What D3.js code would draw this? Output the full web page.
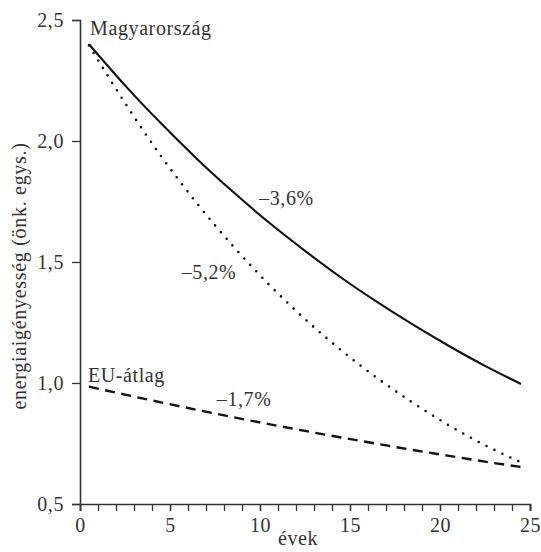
<!DOCTYPE html>
<html>
<head>
<meta charset="utf-8">
<script src="https://cdn.jsdelivr.net/npm/d3@7"></script>
<style>
    body { margin: 0; background: #fff; }
    svg { display: block; }
</style>
</head>
<body>
<svg id="chart" width="541" height="552"></svg>
<script>
// years on the x axis
const years = [0.5, 2.5, 4.5, 6.5, 8.5, 10.5, 12.5, 14.5, 16.5, 18.5, 20.5, 22.5, 24.5];

// energy intensity, relative units
const hungary = [2.400, 2.230, 2.073, 1.926, 1.790, 1.663, 1.546, 1.436, 1.335, 1.241, 1.153, 1.071, 0.996];
const hungaryFast = [2.395, 2.157, 1.938, 1.742, 1.566, 1.407, 1.264, 1.136, 1.021, 0.918, 0.825, 0.743, 0.672];
const euAverage = [0.985, 0.952, 0.920, 0.889, 0.859, 0.830, 0.802, 0.775, 0.749, 0.723, 0.699, 0.675, 0.653];

const yTicks = [0.5, 1.0, 1.5, 2.0, 2.5];
const xTicks = [0, 5, 10, 15, 20, 25];
const xMinorTicks = d3.range(0, 26);

// text notes, anchored in data units [year, value]
const notes = [
    { text: 'Magyarország', at: [0.56, 2.438] },
    { text: '–3,6%', at: [9.95, 1.736] },
    { text: '–5,2%', at: [5.65, 1.43] },
    { text: 'EU-átlag', at: [0.44, 1.004] },
    { text: '–1,7%', at: [7.6, 0.905] }
];

const FONT = "'Liberation Serif', 'Times New Roman', 'DejaVu Serif', serif";

const svg = d3.select('#chart')
    .attr('font-family', FONT);

const x = d3.scaleLinear().domain([0, 25]).range([80, 530]);
const y = d3.scaleLinear().domain([0.5, 2.5]).range([504, 20]);

const fmt = (d) => d3.format('.1f')(d).replace('.', ',');

// y axis
const yAxis = svg.append('g')
    .attr('transform', 'translate(80,0)')
    .call(d3.axisLeft(y).tickValues(yTicks).tickFormat(fmt).tickSize(8).tickPadding(8));

// x axis: minor ticks every year, labels every 5
const xMinor = svg.append('g')
    .attr('transform', 'translate(0,504)')
    .call(d3.axisBottom(x).tickValues(xMinorTicks).tickFormat('').tickSize(7));
const xAxis = svg.append('g')
    .attr('transform', 'translate(0,504)')
    .call(d3.axisBottom(x).tickValues(xTicks).tickFormat(d3.format('d')).tickSize(7).tickPadding(4));

[yAxis, xMinor, xAxis].forEach((g) => {
    g.attr('font-family', FONT).attr('font-size', 20);
    g.select('.domain').attr('stroke', '#333').attr('stroke-width', 1.6);
    g.selectAll('.tick line').attr('stroke', '#333').attr('stroke-width', 1.3);
    g.selectAll('.tick text').attr('fill', '#333').attr('letter-spacing', 0.6);
});
xMinor.select('.domain').remove();
xAxis.selectAll('.tick text').attr('dy', '0.85em');

// axis titles
svg.append('text')
    .attr('transform', 'translate(26,' + 276 + ') rotate(-90)')
    .attr('text-anchor', 'middle')
    .attr('font-size', 20)
    .attr('letter-spacing', 0.7)
    .attr('fill', '#333')
    .text('energiaigényesség (önk. egys.)');

svg.append('text')
    .attr('x', 298)
    .attr('y', 545)
    .attr('text-anchor', 'middle')
    .attr('font-size', 20)
    .attr('letter-spacing', 0.6)
    .attr('fill', '#333')
    .text('évek');

// curves
const line = d3.line()
    .x((d) => x(d[0]))
    .y((d) => y(d[1]))
    .curve(d3.curveNatural);

const series = [
    { values: hungary, dash: null, width: 2.1, cap: 'butt' },
    { values: hungaryFast, dash: '0,8.8', width: 2.6, cap: 'round' },
    { values: euAverage, dash: '10,6.5', width: 2.4, cap: 'butt' }
];

series.forEach((s) => {
    svg.append('path')
        .datum(years.map((yr, i) => [yr, s.values[i]]))
        .attr('fill', 'none')
        .attr('stroke', '#111')
        .attr('stroke-width', s.width)
        .attr('stroke-linecap', s.cap)
        .attr('stroke-dasharray', s.dash)
        .attr('d', line);
});

// notes
svg.selectAll('text.note')
    .data(notes)
    .join('text')
    .attr('class', 'note')
    .attr('x', (d) => x(d.at[0]))
    .attr('y', (d) => y(d.at[1]))
    .attr('font-size', 20)
    .attr('letter-spacing', 0.6)
    .attr('fill', '#333')
    .text((d) => d.text);
</script>
</body>
</html>
